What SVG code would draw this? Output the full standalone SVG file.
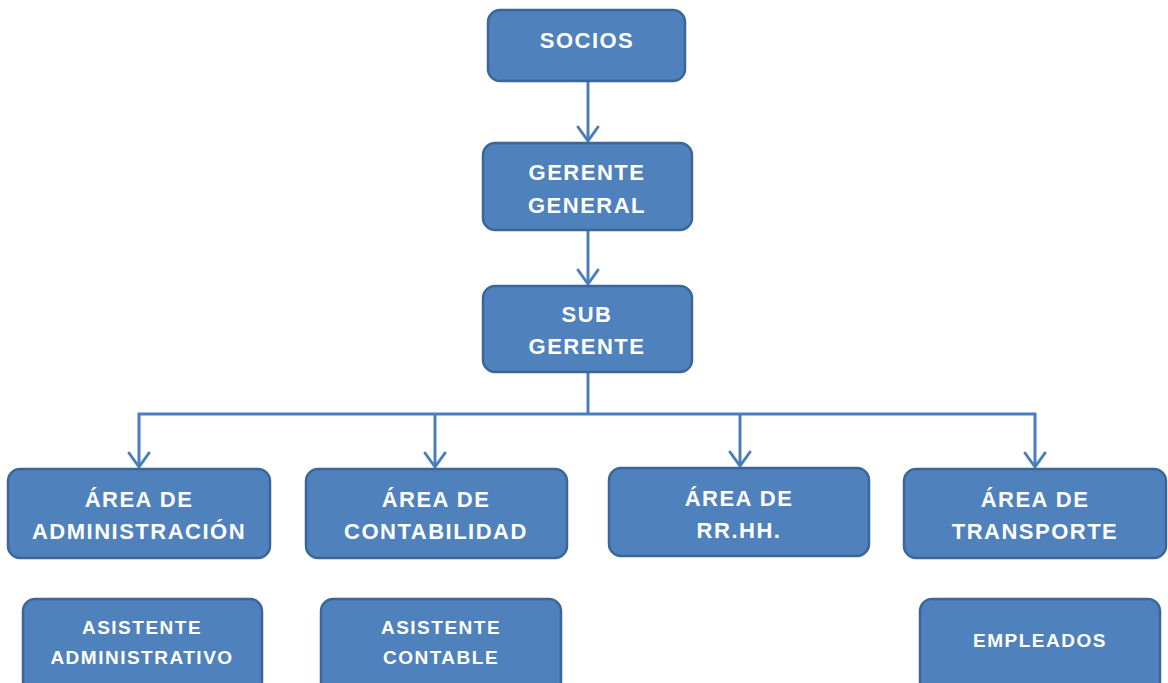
<svg xmlns="http://www.w3.org/2000/svg" width="1168" height="683" viewBox="0 0 1168 683">
<style>
.box{fill:#4f81bd;stroke:#3b6698;stroke-width:2.5}
.t{font-family:"Liberation Sans",Arial,sans-serif;font-weight:bold;fill:#fff;text-anchor:middle;font-size:22px;letter-spacing:1.5px}
.s{font-size:19px}
.c{fill:none;stroke:#4a7ebb;stroke-width:3}
.h{fill:none;stroke:#4a7ebb;stroke-width:3;stroke-linecap:round;stroke-linejoin:round}
</style>
<rect width="1168" height="683" fill="#fff"/>
<g id="connectors">
<line class="c" x1="588" y1="81" x2="588" y2="141"/>
<polyline class="h" points="578,127 588,141 598,127"/>
<line class="c" x1="588" y1="230" x2="588" y2="284"/>
<polyline class="h" points="578,270 588,284 598,270"/>
<polyline class="c" points="588,372 588,414"/>
<polyline class="c" points="139,467 139,414 1035,414 1035,467"/>
<line class="c" x1="435" y1="414" x2="435" y2="467"/>
<line class="c" x1="740" y1="414" x2="740" y2="466"/>
<polyline class="h" points="129,453 139,467 149,453"/>
<polyline class="h" points="425,453 435,467 445,453"/>
<polyline class="h" points="730,452 740,466 750,452"/>
<polyline class="h" points="1025,453 1035,467 1045,453"/>
</g>
<g id="socios"><rect class="box" x="488" y="10" width="197" height="71" rx="12"/><text class="t" x="587" y="48">SOCIOS</text></g>
<g id="gerente-general"><rect class="box" x="483" y="143" width="209" height="87" rx="12"/><text class="t" x="587" y="180">GERENTE</text><text class="t" x="587" y="213">GENERAL</text></g>
<g id="sub-gerente"><rect class="box" x="483" y="286" width="209" height="86" rx="12"/><text class="t" x="587" y="322">SUB</text><text class="t" x="587" y="354">GERENTE</text></g>
<g id="area-administracion"><rect class="box" x="8" y="469" width="262" height="89" rx="12"/><text class="t" x="139" y="507">ÁREA DE</text><text class="t" x="139" y="539">ADMINISTRACIÓN</text></g>
<g id="area-contabilidad"><rect class="box" x="306" y="469" width="261" height="89" rx="12"/><text class="t" x="436" y="507">ÁREA DE</text><text class="t" x="436" y="539">CONTABILIDAD</text></g>
<g id="area-rrhh"><rect class="box" x="609" y="468" width="260" height="88" rx="12"/><text class="t" x="739" y="506">ÁREA DE</text><text class="t" x="739" y="538">RR.HH.</text></g>
<g id="area-transporte"><rect class="box" x="904" y="469" width="262" height="89" rx="12"/><text class="t" x="1035" y="507">ÁREA DE</text><text class="t" x="1035" y="539">TRANSPORTE</text></g>
<g id="asistente-administrativo"><rect class="box" x="23" y="599" width="239" height="95" rx="12"/><text class="t s" x="142" y="634">ASISTENTE</text><text class="t s" x="142" y="664">ADMINISTRATIVO</text></g>
<g id="asistente-contable"><rect class="box" x="321" y="599" width="240" height="95" rx="12"/><text class="t s" x="441" y="634">ASISTENTE</text><text class="t s" x="441" y="664">CONTABLE</text></g>
<g id="empleados"><rect class="box" x="920" y="599" width="240" height="95" rx="12"/><text class="t s" x="1040" y="647">EMPLEADOS</text></g>
</svg>
